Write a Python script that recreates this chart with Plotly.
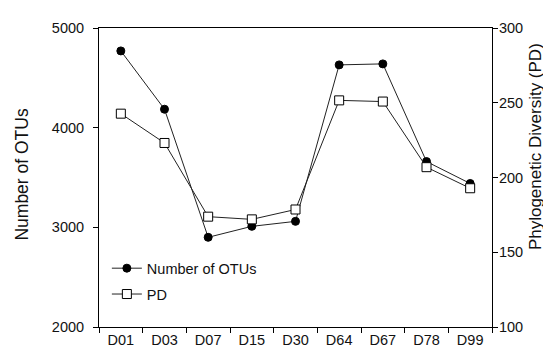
import plotly.graph_objects as go

categories = ["D01", "D03", "D07", "D15", "D30", "D64", "D67", "D78", "D99"]
otus = [4770, 4185, 2900, 3010, 3060, 4630, 4640, 3660, 3440]
pd_vals = [242.7, 223.1, 173.8, 172.0, 178.6, 251.6, 250.8, 206.9, 192.8]

left_ticks = [2000, 3000, 4000, 5000]
right_ticks = [100, 150, 200, 250, 300]

font = dict(family="Liberation Sans, Arial, sans-serif", size=14.5, color="#111111")
lc = "#222222"

fig = go.Figure()
fig.add_trace(go.Scatter(
    x=categories, y=otus, name="Number of OTUs", mode="lines+markers",
    line=dict(color=lc, width=1), legendgroup="a",
    marker=dict(symbol="circle", size=8, color="black", line=dict(color="black", width=1)),
    yaxis="y"))
fig.add_trace(go.Scatter(
    x=categories, y=pd_vals, name="PD", mode="lines+markers",
    line=dict(color=lc, width=1), legendgroup="b",
    marker=dict(symbol="square", size=9, color="white", line=dict(color="black", width=1)),
    yaxis="y2"))

fig.update_layout(
    width=551, height=352,
    margin=dict(l=91, r=67, t=17, b=30),
    paper_bgcolor="white", plot_bgcolor="white",
    font=font,
    showlegend=True,
    legend=dict(x=0.02, y=0.25, xanchor="left", yanchor="top",
                bgcolor="rgba(0,0,0,0)", font=dict(size=14.5, color="#111111"),
                traceorder="grouped", tracegroupgap=4, itemwidth=30),
    xaxis=dict(type="category", categoryorder="array", categoryarray=categories,
               range=[-0.5, 8.5], showline=True, linecolor="black", linewidth=1,
               mirror=True, ticks="outside", tickson="boundaries", ticklen=5,
               tickcolor="black", showgrid=False, zeroline=False),
    yaxis=dict(range=[2000, 5000], tickvals=left_ticks, showline=True,
               linecolor="black", linewidth=1, ticks="outside", ticklen=5,
               tickcolor="black", showgrid=False, zeroline=False,
               ticklabelstandoff=6),
    yaxis2=dict(range=[100, 300], tickvals=right_ticks, overlaying="y", side="right",
                showline=True, linecolor="black", linewidth=1, ticks="outside",
                ticklen=5, tickcolor="black", showgrid=False, zeroline=False,
                ticklabelstandoff=-2),
    annotations=[
        dict(text="Number of OTUs", textangle=-90, xref="paper", yref="paper",
             x=(14 - 91) / 393, y=(322 - 166.5) / 305, xanchor="center", yanchor="middle",
             showarrow=False, font=dict(size=17.5, color="#111111")),
        dict(text="Phylogenetic Diversity (PD)", textangle=-90, xref="paper", yref="paper",
             x=(527 - 91) / 393, y=(322 - 138.5) / 305, xanchor="center", yanchor="middle",
             showarrow=False, font=dict(size=17, color="#111111")),
    ],
)

fig.write_html("out.html")
